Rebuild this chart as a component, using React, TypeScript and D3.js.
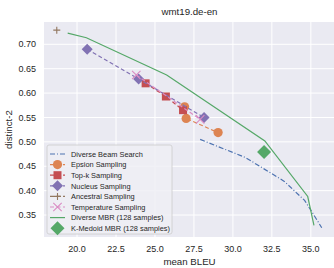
import React from "react";
import * as d3 from "d3";

// values (mean BLEU, distinct-2)
const dbsBleu = [27.9, 30.8, 33.3, 34.6, 35.0, 35.7];
const dbsDist = [0.505, 0.468, 0.419, 0.38, 0.36, 0.324];
const epsBleu = [26.9, 27.0, 29.05];
const epsDist = [0.572, 0.548, 0.519];
const topkBleu = [24.4, 25.7, 26.8];
const topkDist = [0.62, 0.593, 0.565];
const nucBleu = [20.65, 23.95, 28.15];
const nucDist = [0.69, 0.629, 0.55];
const ancBleu = [18.7];
const ancDist = [0.729];
const tempBleu = [23.8, 27.9];
const tempDist = [0.637, 0.546];
const mbrBleu = [19.4, 20.6, 25.75, 32.05, 34.8, 35.2];
const mbrDist = [0.723, 0.7135, 0.637, 0.502, 0.388, 0.329];
const kmBleu = [32.0];
const kmDist = [0.479];

const xTicks = [20.0, 22.5, 25.0, 27.5, 30.0, 32.5, 35.0];
const yTicks = [0.35, 0.4, 0.45, 0.5, 0.55, 0.6, 0.65, 0.7];

const FONT = "'Liberation Sans', Arial, sans-serif";
const TXT = "#262626";

type Mk = "none" | "circle" | "square" | "diamond" | "plus" | "x";
const series = [
  { name: "Diverse Beam Search", xs: dbsBleu, ys: dbsDist, color: "#4C72B0", dash: "5,2,1,2", marker: "none" as Mk, size: 0, line: true },
  { name: "Epsion Sampling", xs: epsBleu, ys: epsDist, color: "#DD8452", dash: "4,2.5", marker: "circle" as Mk, size: 4.6, line: true },
  { name: "Top-k Sampling", xs: topkBleu, ys: topkDist, color: "#C44E52", dash: "4,2.5", marker: "square" as Mk, size: 4, line: true },
  { name: "Nucleus Sampling", xs: nucBleu, ys: nucDist, color: "#8172B3", dash: "4,2.5", marker: "diamond" as Mk, size: 5.5, line: true },
  { name: "Ancestral Sampling", xs: ancBleu, ys: ancDist, color: "#937860", dash: "4,2.5", marker: "plus" as Mk, size: 3.5, line: true },
  { name: "Temperature Sampling", xs: tempBleu, ys: tempDist, color: "#DA8BC3", dash: "4,2.5", marker: "x" as Mk, size: 4.2, line: true },
  { name: "Diverse MBR (128 samples)", xs: mbrBleu, ys: mbrDist, color: "#55A868", dash: "", marker: "none" as Mk, size: 0, line: true },
  { name: "K-Medoid MBR (128 samples)", xs: kmBleu, ys: kmDist, color: "#55A868", dash: "", marker: "diamond" as Mk, size: 7, line: false },
];

const Marker = ({ kind, cx, cy, r, color }: { kind: Mk; cx: number; cy: number; r: number; color: string }) => {
  if (kind === "circle") return <circle cx={cx} cy={cy} r={r} fill={color} />;
  if (kind === "square") return <rect x={cx - r} y={cy - r} width={2 * r} height={2 * r} fill={color} />;
  if (kind === "diamond")
    return <path d={`M${cx},${cy - r}L${cx + r},${cy}L${cx},${cy + r}L${cx - r},${cy}Z`} fill={color} />;
  if (kind === "plus")
    return <path d={`M${cx - r},${cy}H${cx + r}M${cx},${cy - r}V${cy + r}`} stroke={color} strokeWidth={1.1} />;
  if (kind === "x")
    return <path d={`M${cx - r},${cy - r}L${cx + r},${cy + r}M${cx - r},${cy + r}L${cx + r},${cy - r}`} stroke={color} strokeWidth={1.1} />;
  return null;
};

export default function App() {
  const left = 44, right = 335, top = 22, bottom = 237;
  const x = d3.scaleLinear().domain([17.88, 36.55]).range([left, right]);
  const y = d3.scaleLinear().domain([0.305, 0.7457]).range([bottom, top]);
  const line = d3.line<[number, number]>().x((d) => x(d[0])).y((d) => y(d[1]));

  const lgX = 47, lgY = 145, lgW = 125, lgH = 89, rowH = 10.6;

  return (
    <svg width={334} height={268} style={{ position: "absolute", left: 0, top: 0, fontFamily: FONT }}>
      <rect x={0} y={0} width={334} height={268} fill="#fff" />
      <rect x={left} y={top} width={right - left} height={bottom - top} fill="#EAEAF2" />
      {xTicks.map((t) => (
        <line key={"gx" + t} x1={x(t)} x2={x(t)} y1={top} y2={bottom} stroke="#fff" strokeWidth={1} />
      ))}
      {yTicks.map((t) => (
        <line key={"gy" + t} x1={left} x2={right} y1={y(t)} y2={y(t)} stroke="#fff" strokeWidth={1} />
      ))}
      {xTicks.map((t) => (
        <text key={"tx" + t} x={x(t)} y={251.5} fontSize={9} fill={TXT} textAnchor="middle">
          {t.toFixed(1)}
        </text>
      ))}
      {yTicks.map((t) => (
        <text key={"ty" + t} x={36} y={y(t) + 3.2} fontSize={9} fill={TXT} textAnchor="end">
          {t.toFixed(2)}
        </text>
      ))}
      <text x={(left + right) / 2} y={15} fontSize={9.7} fill={TXT} textAnchor="middle">wmt19.de-en</text>
      <text x={(left + right) / 2} y={265} fontSize={9.7} fill={TXT} textAnchor="middle">mean BLEU</text>
      <text transform={`translate(12,${(top + bottom) / 2}) rotate(-90)`} fontSize={9.7} fill={TXT} textAnchor="middle">
        distinct-2
      </text>

      <g>
        {series.map((s) => {
          const pts = s.xs.map((v, i) => [v, s.ys[i]] as [number, number]);
          return (
            <g key={s.name}>
              {s.line && pts.length > 1 && (
                <path d={line(pts) || ""} fill="none" stroke={s.color} strokeWidth={1.2} strokeDasharray={s.dash || undefined} />
              )}
              {pts.map((p, i) => (
                <Marker key={i} kind={s.marker} cx={x(p[0])} cy={y(p[1])} r={s.size} color={s.color} />
              ))}
            </g>
          );
        })}
      </g>

      <rect x={lgX} y={lgY} width={lgW} height={lgH} rx={2} fill="#EEEEF4" fillOpacity={0.85} stroke="#cccccc" strokeWidth={0.8} />
      {series.map((s, i) => {
        const cy = lgY + 9 + i * rowH;
        return (
          <g key={"lg" + s.name}>
            {s.line && (
              <line x1={50} x2={65} y1={cy} y2={cy} stroke={s.color} strokeWidth={1.2} strokeDasharray={s.dash || undefined} />
            )}
            <Marker kind={s.marker} cx={57.5} cy={cy} r={s.size} color={s.color} />
            <text x={71} y={cy + 2.7} fontSize={7.4} fill={TXT}>{s.name}</text>
          </g>
        );
      })}
    </svg>
  );
}
